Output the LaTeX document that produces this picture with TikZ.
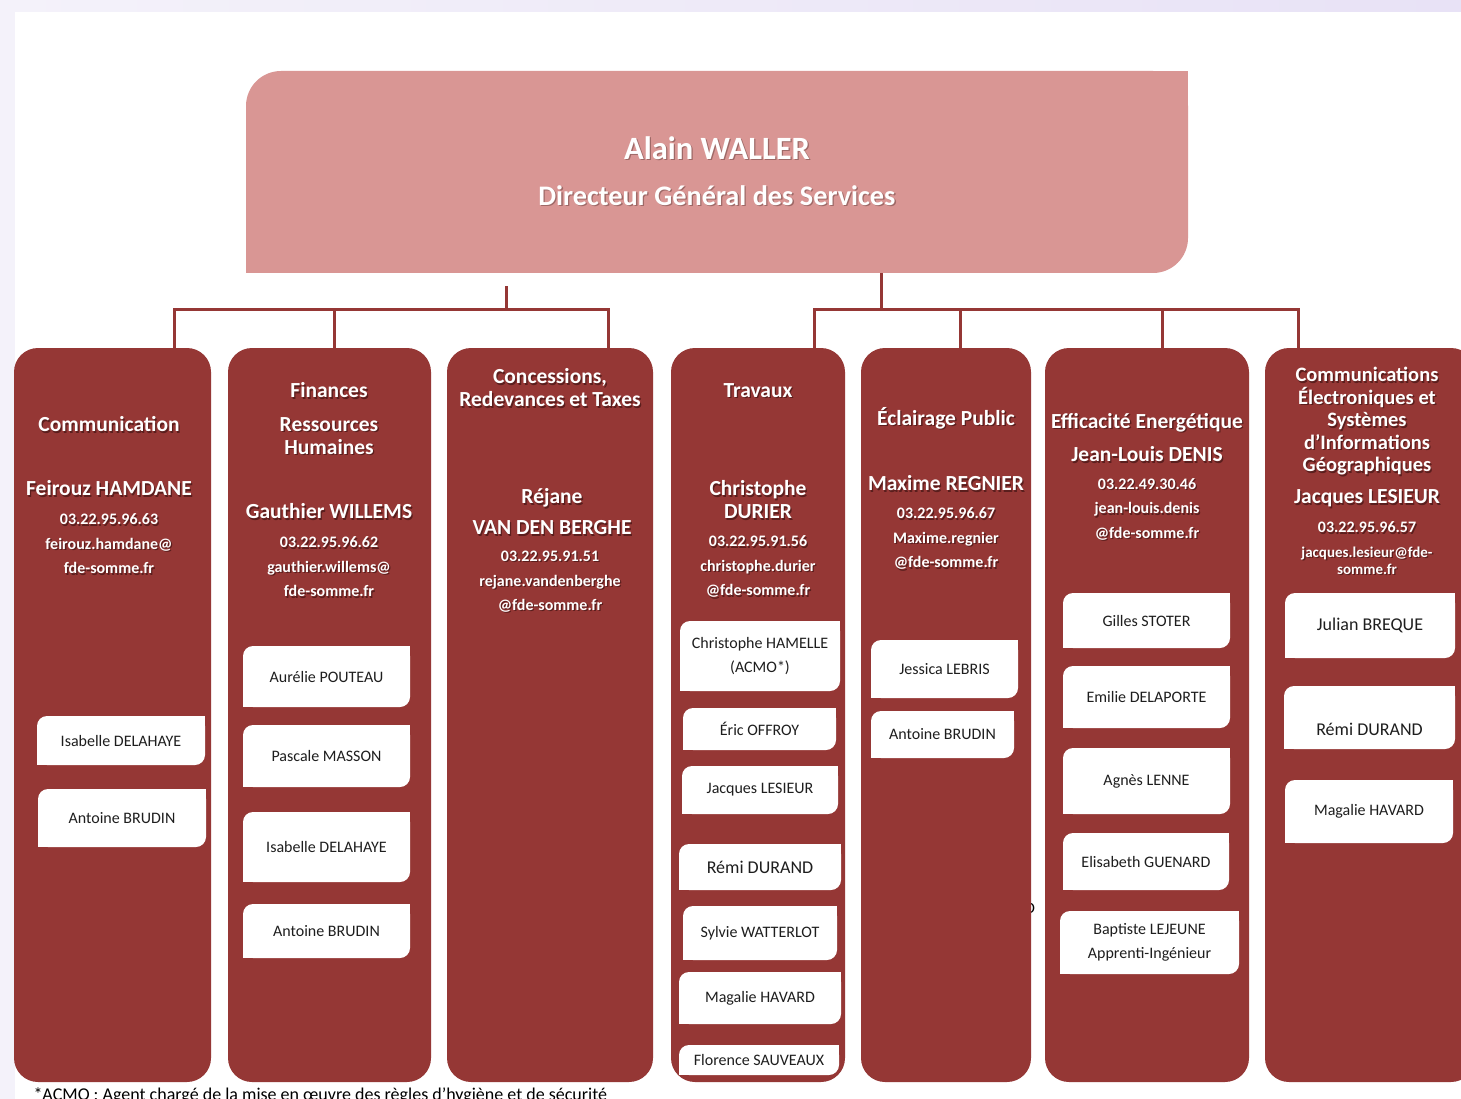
\documentclass[tikz,border=0pt]{standalone}
\usepackage{fontspec}
\setmainfont{Carlito}
\usepackage{xcolor}
\usetikzlibrary{calc}
\definecolor{bgleft}{HTML}{F4F2FA}
\definecolor{bgright}{HTML}{E8E2F6}
\definecolor{dirpink}{HTML}{D99694}
\definecolor{deptred}{HTML}{953735}
\definecolor{colshade}{HTML}{5A1E1D}
\definecolor{dirshade}{HTML}{9E6967}
\definecolor{boxtext}{HTML}{1E1E1E}
% text with a soft drop shadow
\newcommand\shd[2][colshade]{\makebox[0pt][l]{\kern1.3pt\raisebox{-1.3pt}{\textcolor{#1}{#2}}}#2}
\tikzset{
  dir/.style={fill=dirpink, rounded corners=35pt, minimum width=942, minimum height=202, inner sep=0pt},
  dept/.style={fill=deptred, rounded corners=24pt, minimum height=734, inner sep=0pt},
  link/.style={draw=deptred, line width=3pt},
  ttl/.style={text=white, align=center, font=\fontsize{21.5}{23}\selectfont\bfseries},
  who/.style={text=white, align=center, font=\fontsize{21.5}{31}\selectfont\bfseries},
  info/.style={text=white, align=center, font=\fontsize{16}{24.5}\selectfont\bfseries},
  staff/.style={fill=white, rounded corners=10pt, text=boxtext, align=center, inner sep=0pt,
    font=\fontsize{16}{24}\selectfont},
  note/.style={text=black, font=\fontsize{18}{20}\selectfont}
}
% white box, rounded at top left and bottom right only
\newcommand\staffbox[5]{%
  \node[staff, minimum width=#3, minimum height=#4] (#1) at (#2) {#5};
  \fill[white] (#1.north east) rectangle ++(-10,10);
  \fill[white] (#1.south west) rectangle ++(10,-10);
}
\begin{document}
\begin{tikzpicture}[x=1pt, y=-1pt]
  \clip (0,0) rectangle (1461,1099);
  % page
  \shade[left color=bgleft, right color=bgright] (0,0) rectangle (1461,1099);
  \fill[white] (15,12) rectangle (1461,1099);
  \node[text=black, font=\fontsize{16}{18}\selectfont] (stray) at (1030,908) {D};

  % director
  \node[dir] (dir) at (717,172) {};
  \fill[dirpink] (dir.north east) rectangle ++(-36,36);
  \fill[dirpink] (dir.south west) rectangle ++(36,-36);
  \node[text=white, font=\fontsize{32.5}{34}\selectfont\bfseries] (dname) at (717,149) {\shd[dirshade]{Alain WALLER}};
  \node[text=white, font=\fontsize{28.3}{30}\selectfont\bfseries] (drole) at (717,196) {\shd[dirshade]{Directeur Général des Services}};

  % departments
  \node[dept, minimum width=197] (c1) at (112.5,715) {};
  \node[dept, minimum width=203] (c2) at (329.5,715) {};
  \node[dept, minimum width=206] (c3) at (550,715) {};
  \node[dept, minimum width=174] (c4) at (758,715) {};
  \node[dept, minimum width=170] (c5) at (946,715) {};
  \node[dept, minimum width=204] (c6) at (1147,715) {};
  \node[dept, minimum width=210] (c7) at (1370,715) {};

  % connectors
  \coordinate (jl) at (506,309);
  \coordinate (jr) at (881,309);
  \draw[link] ($(dir.south -| jl)+(0,13)$) -- (jl);
  \draw[link] (dir.south -| jr) -- (jr);
  \draw[link] ([xshift=61.5pt]c1.north) |- (jl);
  \draw[link] ([xshift=4.5pt]c2.north) |- (jl);
  \draw[link] ([xshift=58pt]c3.north) |- (jl);
  \draw[link] ([xshift=56pt]c4.north) |- (jr);
  \draw[link] ([xshift=14pt]c5.north) |- (jr);
  \draw[link] ([xshift=15pt]c6.north) |- (jr);
  \draw[link] ([xshift=-72pt]c7.north) |- (jr);

  % Communication
  \node[ttl] (t1) at (109,425) {\shd{Communication}};
  \node[who] (p1) at (109,489) {\shd{Feirouz HAMDANE}};
  \node[info] (k1) at (109,544.5) {\shd{03.22.95.96.63}\\\shd{feirouz.hamdane@}\\\shd{fde-somme.fr}};
  \staffbox{b11}{121,740.5}{168}{49}{Isabelle DELAHAYE}
  \staffbox{b12}{122,818}{168}{58}{Antoine BRUDIN}

  % Finances
  \node[ttl] (t2) at (329,391) {\shd{Finances}};
  \node[ttl] (t2b) at (329,436.5) {\shd{Ressources}\\\shd{Humaines}};
  \node[who] (p2) at (329,512) {\shd{Gauthier WILLEMS}};
  \node[info] (k2) at (329,567.5) {\shd{03.22.95.96.62}\\\shd{gauthier.willems@}\\\shd{fde-somme.fr}};
  \staffbox{b21}{326.5,676.5}{167}{61}{Aurélie POUTEAU}
  \staffbox{b22}{326.5,756}{167}{62}{Pascale MASSON}
  \staffbox{b23}{326.5,847}{167}{70}{Isabelle DELAHAYE}
  \staffbox{b24}{326.5,931}{167}{54}{Antoine BRUDIN}

  % Concessions
  \node[ttl] (t3) at (550,388.5) {\shd{Concessions,}\\\shd{Redevances et Taxes}};
  \node[who] (p3) at (552,512.5) {\shd{Réjane}\\\shd{VAN DEN BERGHE}};
  \node[info] (k3) at (550,582.5) {\shd{03.22.95.91.51}\\\shd{rejane.vandenberghe}\\\shd{@fde-somme.fr}};

  % Travaux
  \node[ttl] (t4) at (758,391) {\shd{Travaux}};
  \node[ttl] (p4) at (758,500.5) {\shd{Christophe}\\\shd{DURIER}};
  \node[info] (k4) at (758,567.5) {\shd{03.22.95.91.56}\\\shd{christophe.durier}\\\shd{@fde-somme.fr}};
  \staffbox{b41}{760,656}{160}{70}{Christophe HAMELLE\\(ACMO*)}
  \staffbox{b42}{759.5,729}{153}{42}{Éric OFFROY}
  \staffbox{b43}{760,790}{156}{48}{Jacques LESIEUR}
  \staffbox{b44}{760,867}{162}{46}{\fontsize{18}{20}\selectfont Rémi DURAND}
  \staffbox{b45}{760,933}{154}{54}{Sylvie WATTERLOT}
  \staffbox{b46}{760,998}{162}{52}{Magalie HAVARD}
  \staffbox{b47}{759,1060}{160}{30}{Florence SAUVEAUX}

  % Eclairage
  \node[ttl] (t5) at (946,419) {\shd{Éclairage Public}};
  \node[who] (p5) at (946,484) {\shd{Maxime REGNIER}};
  \node[info] (k5) at (946,539.5) {\shd{03.22.95.96.67}\\\shd{Maxime.regnier}\\\shd{@fde-somme.fr}};
  \staffbox{b51}{944.5,669}{147}{58}{Jessica LEBRIS}
  \staffbox{b52}{942.5,734.5}{143}{47}{Antoine BRUDIN}

  % Efficacite
  \node[ttl] (t6) at (1147,423) {\shd{Efficacité Energétique}};
  \node[who] (p6) at (1147,455) {\shd{Jean-Louis DENIS}};
  \node[info] (k6) at (1147,510) {\shd{03.22.49.30.46}\\\shd{jean-louis.denis}\\\shd{@fde-somme.fr}};
  \staffbox{b61}{1146.5,620.5}{167}{55}{Gilles STOTER}
  \staffbox{b62}{1146.5,697}{167}{62}{Emilie DELAPORTE}
  \staffbox{b63}{1146.5,781}{167}{66}{Agnès LENNE}
  \staffbox{b64}{1146,861.5}{166}{57}{Elisabeth GUENARD}
  \staffbox{b65}{1149.5,942.5}{179}{63}{\fontsize{16}{19}\selectfont Baptiste LEJEUNE\\Apprenti-Ingénieur}

  % Communications electroniques
  \node[ttl, font=\fontsize{20.5}{22.5}\selectfont\bfseries] (t7) at (1367,422) {\shd{Communications}\\\shd{Électroniques et}\\\shd{Systèmes}\\\shd{d’Informations}\\\shd{Géographiques}};
  \node[who] (p7) at (1367,499) {\shd{Jacques LESIEUR}};
  \node[info] (k7) at (1367,528) {\shd{03.22.95.96.57}};
  \node[info, font=\fontsize{15}{17}\selectfont\bfseries] (m7) at (1367,561.5) {\shd{jacques.lesieur@fde-}\\\shd{somme.fr}};
  \staffbox{b71}{1370,625.5}{170}{65}{\fontsize{18}{20}\selectfont Julian BREQUE}
  \staffbox{b72}{1369.5,717.5}{171}{63}{\fontsize{18}{20}\selectfont\raisebox{-18pt}[0pt][0pt]{Rémi DURAND}}
  \staffbox{b73}{1369,811.5}{168}{63}{Magalie HAVARD}

  % footnote
  \node[note, anchor=base west] (fn) at (30,1100) {*ACMO : Agent chargé de la mise en œuvre des règles d’hygiène et de sécurité};
\end{tikzpicture}
\end{document}
